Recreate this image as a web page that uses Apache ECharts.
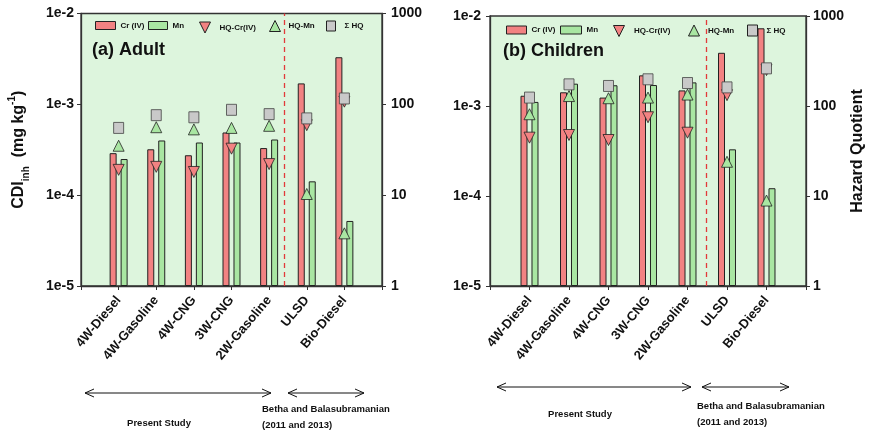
<!DOCTYPE html>
<html><head><meta charset="utf-8">
<script src="https://cdn.jsdelivr.net/npm/echarts@6/dist/echarts.min.js"></script>
<style>html,body{margin:0;padding:0;background:#fff}#c{width:870px;height:432px}</style>
</head><body><div id="c"></div>
<script>
const categories = ['4W-Diesel','4W-Gasoline','4W-CNG','3W-CNG','2W-Gasoline','ULSD','Bio-Diesel'];
const adultCr = [2.9e-4, 3.2e-4, 2.75e-4, 4.9e-4, 3.3e-4, 1.7e-3, 3.3e-3];
const adultMn = [2.5e-4, 4.0e-4, 3.8e-4, 3.8e-4, 4.1e-4, 1.42e-4, 5.2e-5];
const adultHQCr = [19, 20.5, 18, 32.5, 22, 59, 107];
const adultHQMn = [35, 56, 53, 55, 58, 10.3, 3.8];
const adultHQSum = [55, 76, 72, 87, 78, 70, 116];
const childCr = [1.30e-3, 1.42e-3, 1.24e-3, 2.19e-3, 1.49e-3, 3.9e-3, 7.3e-3];
const childMn = [1.11e-3, 1.77e-3, 1.70e-3, 1.71e-3, 1.83e-3, 3.3e-4, 1.22e-4];
const childHQCr = [44.5, 47.6, 41.9, 75, 50.5, 132, 251];
const childHQMn = [81, 129, 122, 124, 134, 24, 8.9];
const childHQSum = [124, 174, 167, 198, 180, 161, 262];
const cdiTicks = ['1e-5','1e-4','1e-3','1e-2'];
const hqTicks = ['1','10','100','1000'];
const seriesNames = ['Cr (IV)','Mn','HQ-Cr(IV)','HQ-Mn','\u03A3 HQ'];

const FONT = 'Liberation Sans, Arial, sans-serif';
const RED = '#f28282', GREEN = '#a9e6a2', GREY = '#c9c9c9', EDGE = '#222';
const pad = a => ['-', ...a, '-'];
const xCats = ['', ...categories, ''];

const grids = [
  {left: 81, top: 13.5, width: 301, height: 272.5},
  {left: 490, top: 16, width: 316, height: 270}
];

const xAxes = [], yAxes = [], series = [];
const panels = [
  {cr: adultCr, mn: adultMn, hqcr: adultHQCr, hqmn: adultHQMn, hqs: adultHQSum, split: 5.40, lm: 7, rm: 9},
  {cr: childCr, mn: childMn, hqcr: childHQCr, hqmn: childHQMn, hqs: childHQSum, split: 5.47, lm: 9, rm: 7}
];
const axisLine = {show: true, lineStyle: {color: '#333', width: 1.3}};
panels.forEach((p, i) => {
  xAxes.push({
    type: 'category', gridIndex: i, data: xCats, boundaryGap: false,
    axisLine: axisLine, axisTick: {show: true, inside: false, length: 4, alignWithLabel: true, lineStyle: {color: '#333'}},
    axisLabel: {rotate: 50, margin: 12, fontFamily: FONT, fontWeight: 'bold', fontSize: 13, color: '#111', interval: 0},
    splitLine: {show: false}
  });
});
panels.forEach((p, i) => {
  xAxes.push({type: 'value', gridIndex: i, min: 0, max: 8, show: false, splitLine: {show: false}});
});
panels.forEach((p, i) => {
  yAxes.push({
    type: 'log', logBase: 10, gridIndex: i, min: 1e-5, max: 1e-2, startValue: 1e-5, position: 'left',
    axisLine: axisLine, axisTick: {show: true, length: 4, lineStyle: {color: '#333'}},
    minorTick: {show: false}, splitLine: {show: false},
    axisLabel: {margin: p.lm, fontFamily: FONT, fontWeight: 'bold', fontSize: 14, color: '#111',
      formatter: v => cdiTicks[Math.round(Math.log10(v)) + 5]},
    name: i === 0 ? '{a|CDI}{s|inh}{a|  (mg kg}{p|-1}{a|)}' : '',
    nameLocation: 'middle', nameRotate: 90, nameGap: 50,
    nameTextStyle: {rich: {
      a: {fontFamily: FONT, fontWeight: 'bold', fontSize: 16, color: '#111', lineHeight: 24},
      s: {fontFamily: FONT, fontWeight: 'bold', fontSize: 10, color: '#111', verticalAlign: 'bottom'},
      p: {fontFamily: FONT, fontWeight: 'bold', fontSize: 10, color: '#111', verticalAlign: 'top'}
    }}
  });
  yAxes.push({
    type: 'log', logBase: 10, gridIndex: i, min: 1, max: 1000, position: 'right',
    axisLine: axisLine, axisTick: {show: true, length: 4, lineStyle: {color: '#333'}},
    minorTick: {show: false}, splitLine: {show: false},
    axisLabel: {margin: p.rm, fontFamily: FONT, fontWeight: 'bold', fontSize: 14, color: '#111',
      formatter: v => hqTicks[Math.round(Math.log10(v))]},
    name: i === 1 ? 'Hazard Quotient' : '',
    nameLocation: 'middle', nameRotate: 90, nameGap: 44,
    nameTextStyle: {fontFamily: FONT, fontWeight: 'bold', fontSize: 16, color: '#111'}
  });
});
// yAxis order: 0 cdi-left, 1 hq-left, 2 cdi-right, 3 hq-right
panels.forEach((p, i) => {
  const base = {xAxisIndex: i, z: 2};
  series.push(Object.assign({}, base, {type: 'bar', name: seriesNames[0], yAxisIndex: i*2, data: pad(p.cr),
    barWidth: 7, barGap: '57%', itemStyle: {color: RED, borderColor: EDGE, borderWidth: 1}}));
  series.push(Object.assign({}, base, {type: 'bar', name: seriesNames[1], yAxisIndex: i*2, data: pad(p.mn),
    barWidth: 7, barGap: '57%', itemStyle: {color: GREEN, borderColor: EDGE, borderWidth: 1}}));
  series.push(Object.assign({}, base, {type: 'scatter', name: seriesNames[2], yAxisIndex: i*2+1, data: pad(p.hqcr),
    symbol: 'triangle', symbolRotate: 180, symbolSize: [11, 11], z: 3,
    itemStyle: {color: RED, borderColor: EDGE, borderWidth: 0.8, opacity: 1}}));
  series.push(Object.assign({}, base, {type: 'scatter', name: seriesNames[3], yAxisIndex: i*2+1, data: pad(p.hqmn),
    symbol: 'triangle', symbolSize: [11, 11], z: 3,
    itemStyle: {color: GREEN, borderColor: EDGE, borderWidth: 0.8, opacity: 1}}));
  series.push(Object.assign({}, base, {type: 'scatter', name: seriesNames[4], yAxisIndex: i*2+1, data: pad(p.hqs),
    symbol: 'rect', symbolSize: [10, 11], z: 4,
    itemStyle: {color: GREY, borderColor: '#444', borderWidth: 0.8, opacity: 1}}));
  series.push({type: 'line', xAxisIndex: 2 + i, yAxisIndex: i*2, data: [], silent: true,
    markLine: {silent: true, symbol: 'none', label: {show: false},
      lineStyle: {color: '#e23a3a', type: [5, 4], width: 1.3},
      data: [{xAxis: p.split}]}});
});

const legendText = {fontFamily: FONT, fontWeight: 'bold', fontSize: 8, color: '#111'};
const legends = [];
const DOWN = 'path://M0,0L10,0L5,10Z', UP = 'path://M5,0L10,10L0,10Z';
const legendPos = [
  [[95, 21, 20, 8, 'rect', 0], [148, 21, 19, 8, 'rect', 0], [199, 21.5, 11, 11, DOWN, 4], [269, 20, 11, 11, UP, 3], [326, 20.5, 9, 10, 'rect', 4]],
  [[506, 25.5, 20, 8, 'rect', 0], [560, 25.5, 21, 8, 'rect', 0], [613, 25, 12, 11, DOWN, 4], [688, 24.5, 12, 11, UP, 3], [747, 24.5, 10, 11, 'rect', 4]]
];
legendPos.forEach(row => row.forEach((it, k) => {
  legends.push({left: it[0], top: it[1], itemWidth: it[2], itemHeight: it[3], padding: 0,
    itemGap: 0, selectedMode: false, symbolRotate: 0,
    textStyle: Object.assign({padding: [0, 0, 0, it[5]]}, legendText),
    itemStyle: {borderColor: '#222', borderWidth: 1},
    data: [{name: seriesNames[k], icon: it[4]}]});
}));

function arrow(x1, x2, y) {
  return {type: 'group', children: [
    {type: 'line', shape: {x1: x1, y1: y, x2: x2, y2: y}, style: {stroke: '#111', lineWidth: 1}},
    {type: 'polyline', shape: {points: [[x1 + 9, y - 4], [x1, y], [x1 + 9, y + 4]]}, style: {stroke: '#111', fill: null, lineWidth: 1}},
    {type: 'polyline', shape: {points: [[x2 - 9, y - 4], [x2, y], [x2 - 9, y + 4]]}, style: {stroke: '#111', fill: null, lineWidth: 1}}
  ]};
}
const noteStyle = {fontFamily: FONT, fontWeight: 'bold', fontSize: 9.5, fill: '#111'};
const note = (text, x, y, align) => ({type: 'text',
  style: Object.assign({text: text, x: x, y: y, align: align || 'left', verticalAlign: 'middle'}, noteStyle)});
const graphic = [
  arrow(85, 271, 393), arrow(288, 364, 393),
  arrow(497, 691, 387), arrow(702, 789, 387),
  note('Present Study', 159, 423, 'center'),
  note('Betha and Balasubramanian', 262, 409),
  note('(2011 and 2013)', 262, 425),
  note('Present Study', 580, 414, 'center'),
  note('Betha and Balasubramanian', 697, 406),
  note('(2011 and 2013)', 697, 422)
];

const option = {
  animation: false,
  backgroundColor: '#ffffff',
  title: [
    {text: '(a) Adult', left: 92, top: 41, padding: 0, textStyle: {fontFamily: FONT, fontWeight: 'bold', fontSize: 18, color: '#111'}},
    {text: '(b) Children', left: 503, top: 42, padding: 0, textStyle: {fontFamily: FONT, fontWeight: 'bold', fontSize: 18, color: '#111'}}
  ],
  grid: grids.map(g => Object.assign({show: true, backgroundColor: '#ddf5dd', borderColor: '#333', borderWidth: 1.3, containLabel: false}, g)),
  legend: legends,
  xAxis: xAxes,
  yAxis: yAxes,
  series: series,
  graphic: graphic
};
const chart = echarts.init(document.getElementById('c'), null, {renderer: 'canvas'});
chart.setOption(option);
</script></body></html>
